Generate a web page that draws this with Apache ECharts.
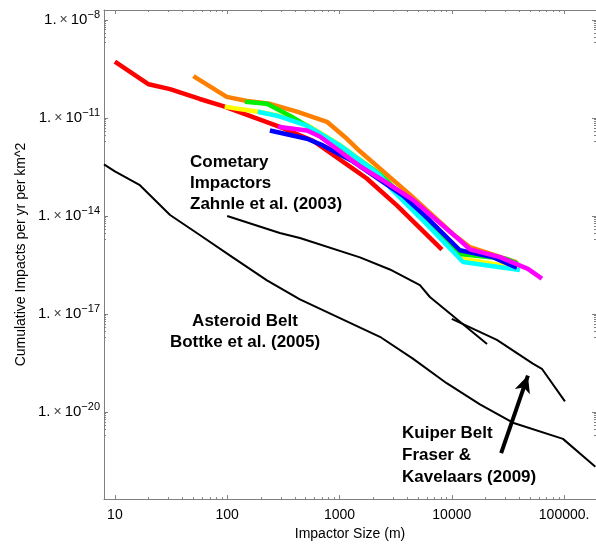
<!DOCTYPE html>
<html>
<head>
<meta charset="utf-8">
<script src="https://cdn.jsdelivr.net/npm/echarts@6/dist/echarts.min.js"></script>
<style>
  html, body { margin: 0; padding: 0; background: #fff; }
  #chart { width: 596px; height: 546px; }
</style>
</head>
<body>
<div id="chart"></div>
<script>
// axis ticks
const xTickValues = [10, 100, 1000, 10000, 100000];
const xTickLabels = ['10', '100', '1000', '10000', '100000.'];
const yTickValues = [1e-8, 1e-11, 1e-14, 1e-17, 1e-20];
const yTickExponents = ['\u22128', '\u221211', '\u221214', '\u221217', '\u221220'];

// black reference curves [size (m), cumulative impacts]
const asteroidBelt = [[8, 3.8e-13], [10, 2.3e-13], [16.7, 8.7e-14], [31, 1.07e-14], [57, 2.6e-15],
  [112, 5.4e-16], [226, 1.07e-16], [444, 2.8e-17], [2290, 2.0e-18], [4500, 4.3e-19],
  [9000, 7.6e-20], [17800, 1.7e-20], [35000, 4.7e-21], [97700, 1.5e-21], [190000, 2.1e-22]];
const zahnle = [[100, 1e-14], [294, 3.0e-15], [444, 2.1e-15], [1520, 5.4e-16], [2810, 2.3e-16],
  [5200, 7.6e-17], [6380, 3.3e-17], [20600, 1.2e-18]];
const kuiperBelt = [[10000, 7.1e-18], [25200, 1.6e-18], [52700, 3.0e-19], [63400, 2.1e-19], [101700, 2.1e-20]];

// coloured crater-derived curves
const redCurve = [[10, 5.3e-10], [20, 1.07e-10], [31, 7.6e-11], [57, 3.8e-11], [92, 2.3e-11], [294, 5.3e-12],
  [580, 2.0e-12], [1315, 2.8e-13], [1750, 1.4e-13], [3240, 2.1e-14], [8170, 9.3e-16]];
const orangeCurve = [[50, 1.89e-10], [99, 4.4e-11], [150, 3.3e-11], [240, 2.7e-11], [418, 1.55e-11],
  [773, 7.6e-12], [1165, 2.3e-12], [1520, 9.5e-13], [4240, 4.5e-14], [10230, 2.8e-15],
  [14500, 1.1e-15], [38000, 3.8e-16]];
const yellowCurve = [[95, 2.2e-11], [187, 1.55e-11], [280, 1.2e-11], [520, 6.0e-12], [1010, 1.5e-12],
  [2290, 1.9e-13], [6000, 6.0e-15], [12000, 5.0e-16], [40000, 2.5e-16]];
const greenCurve = [[144, 3.1e-11], [226, 2.7e-11], [362, 1.17e-11], [873, 1.9e-12], [2290, 1.9e-13],
  [6000, 7.8e-15], [11800, 6.8e-16], [30900, 4.8e-16], [38800, 3.4e-16]];
const cyanCurve = [[187, 1.55e-11], [277, 1.17e-11], [513, 5.8e-12], [1010, 1.44e-12], [2290, 1.78e-13],
  [2990, 5.9e-14], [6000, 5.5e-15], [12570, 3.9e-16], [40400, 2.2e-16]];
const blueCurve = [[240, 4.1e-12], [513, 2.3e-12], [711, 1.44e-12], [1315, 4.7e-13], [3670, 4.2e-14],
  [6000, 8.9e-15], [11800, 8.9e-16], [23200, 5.5e-16], [38000, 2.6e-16]];
const magentaCurve = [[282, 5.4e-12], [513, 4.1e-12], [669, 2.7e-12], [1520, 3.3e-13], [2290, 1.4e-13],
  [4510, 3.1e-14], [11800, 1.8e-15], [14500, 9.5e-16], [26800, 5.5e-16], [47600, 2.4e-16], [63400, 1.2e-16]];

// Kuiper belt arrow
const arrowStart = [27500, 5.5e-22];
const arrowEnd = [47600, 1.3e-19];

const xMin = 8, xMax = 192300;
const yMin = Math.pow(10, -22.667), yMax = Math.pow(10, -7.697);

function minorTicks(majors, step) {
  const out = [];
  majors.forEach(m => {
    for (let k = 2; k <= 9; k++) out.push(m * Math.pow(10, step) * k);
  });
  return out;
}
const xMinor = minorTicks(xTickValues, 0).filter(v => v < xMax);
const yMinor = minorTicks(yTickValues, -1).filter(v => v > yMin);

const tickColor = '#808080';
const font = 'Liberation Sans';

function idxOf(list, v) {
  const lv = Math.log10(v);
  for (let i = 0; i < list.length; i++) {
    if (Math.abs(Math.log10(list[i]) - lv) < 0.01) return i;
  }
  return -1;
}

function xAxisDef(position, ticks, len, withLabels, withLine) {
  return {
    type: 'log', logBase: 10, min: xMin, max: xMax, position: position,
    axisLine: { show: withLine, onZero: false, lineStyle: { color: tickColor, width: 1 } }, splitLine: { show: false },
    axisTick: { inside: true, length: len, customValues: ticks, lineStyle: { color: tickColor } },
    axisLabel: withLabels ? {
      customValues: xTickValues, margin: 9, color: '#000', fontSize: 14, fontFamily: font,
      formatter: v => { const i = idxOf(xTickValues, v); return i < 0 ? '' : xTickLabels[i]; }
    } : { show: false }
  };
}
function yAxisDef(position, ticks, len, withLabels, withLine) {
  return {
    type: 'log', logBase: 10, min: yMin, max: yMax, position: position,
    axisLine: { show: withLine, onZero: false, lineStyle: { color: tickColor, width: 1 } }, splitLine: { show: false },
    axisTick: { inside: true, length: len, customValues: ticks, lineStyle: { color: tickColor } },
    axisLabel: withLabels ? {
      customValues: yTickValues, margin: 4, color: '#000',
      formatter: v => { const i = idxOf(yTickValues, v); return i < 0 ? '' : '{m|1.\u2009}{x|\u00d7}{m|\u200910}{s|' + yTickExponents[i] + '}'; },
      rich: {
        m: { fontSize: 15, fontFamily: font, color: '#000' },
        x: { fontSize: 14, fontFamily: font, color: '#444' },
        s: { fontSize: 11, fontFamily: font, color: '#000', padding: [0, 0, 9, 0] }
      }
    } : { show: false }
  };
}

const xAxes = [
  xAxisDef('bottom', xTickValues, 4, true, true),
  xAxisDef('bottom', xMinor, 2, false, false),
  xAxisDef('top', xTickValues, 4, false, true),
  xAxisDef('top', xMinor, 2, false, false)
];
Object.assign(xAxes[0], {
  name: 'Impactor Size (m)', nameLocation: 'middle', nameGap: 23,
  nameTextStyle: { fontSize: 14, fontFamily: font, color: '#000' }
});
const yAxes = [
  yAxisDef('left', yTickValues, 4, true, true),
  yAxisDef('left', yMinor, 2, false, false),
  yAxisDef('right', yTickValues, 4, false, false),
  yAxisDef('right', yMinor, 2, false, false)
];
Object.assign(yAxes[0], {
  name: 'Cumulative Impacts per yr per km^2', nameLocation: 'middle', nameGap: 76, nameMoveOverlap: false,
  nameTextStyle: { fontSize: 14, fontFamily: font, color: '#000' }
});

function line(name, data, color, width) {
  return {
    name: name, type: 'line', data: data, symbol: 'none', silent: true,
    lineStyle: { color: color, width: width }, z: 3
  };
}

const kuiperSeries = line('Kuiper Belt', kuiperBelt, '#000', 2);
kuiperSeries.markLine = {
  silent: true, symbol: ['none', 'arrow'], symbolSize: [12, 17], animation: false,
  lineStyle: { color: '#000', width: 4, type: 'solid' }, label: { show: false },
  data: [[{ coord: arrowStart }, { coord: arrowEnd }]]
};

const chart = echarts.init(document.getElementById('chart'), null, { renderer: 'canvas' });
chart.setOption({
  animation: false,
  backgroundColor: '#fff',
  grid: { left: 104, right: 0, top: 10, bottom: 42 },
  xAxis: xAxes,
  yAxis: yAxes,
  series: [
    line('Asteroid Belt', asteroidBelt, '#000', 2),
    line('Zahnle', zahnle, '#000', 2),
    kuiperSeries,
    line('red', redCurve, '#ff0000', 4.5),
    line('orange', orangeCurve, '#ff8000', 4.5),
    line('yellow', yellowCurve, '#ffff00', 4.5),
    line('green', greenCurve, '#00ee00', 4.5),
    line('cyan', cyanCurve, '#00ffff', 4.5),
    line('blue', blueCurve, '#0000ff', 4.5),
    line('magenta', magentaCurve, '#ff00ff', 4.5)
  ],
  graphic: [
    { type: 'text', x: 190, y: 152, style: { text: 'Cometary\nImpactors\nZahnle et al. (2003)', font: 'bold 17px "Liberation Sans"', lineHeight: 21, fill: '#000' } },
    { type: 'text', x: 245, y: 311, style: { text: 'Asteroid Belt\nBottke et al. (2005)', font: 'bold 17px "Liberation Sans"', lineHeight: 21, fill: '#000', align: 'center' } },
    { type: 'text', x: 402, y: 422, style: { text: 'Kuiper Belt\nFraser &\nKavelaars (2009)', font: 'bold 17px "Liberation Sans"', lineHeight: 22, fill: '#000' } }
  ]
});
</script>
</body>
</html>
